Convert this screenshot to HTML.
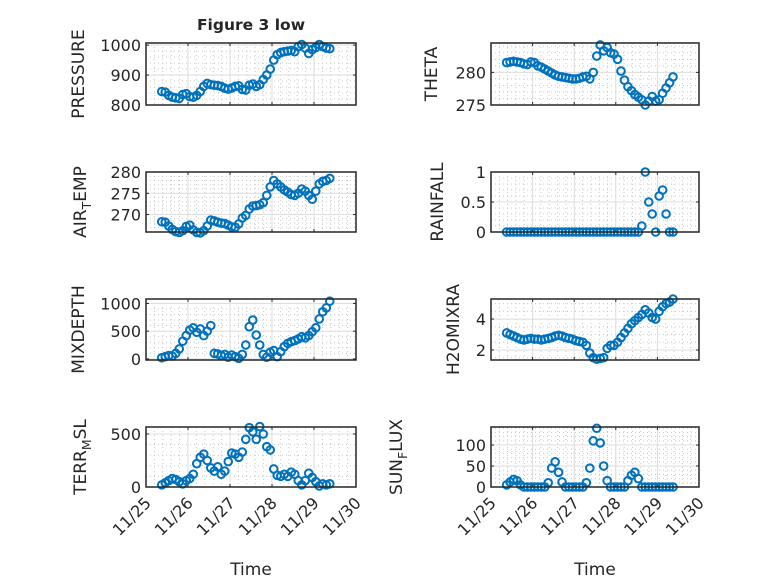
<!DOCTYPE html>
<html><head><meta charset="utf-8"><style>
html,body{margin:0;padding:0;background:#fff;}
svg text{font-family:"DejaVu Sans","Liberation Sans",sans-serif;fill:#262626;}
</style></head><body>
<svg id="fig" width="778" height="583" viewBox="0 0 778 583" xmlns="http://www.w3.org/2000/svg">
<rect width="778" height="583" fill="#fff"/>
<text x="251" y="30" text-anchor="middle" font-size="15.5" font-weight="bold">Figure 3 low</text>
<text x="251" y="575" text-anchor="middle" font-size="17">Time</text>
<text x="595" y="575" text-anchor="middle" font-size="17">Time</text>
</svg>
<script>
// time in days after 11/25 00:00
const timeDays = [0.375,0.458,0.542,0.625,0.708,0.792,0.875,0.958,1.042,1.125,1.208,1.292,1.375,1.458,1.542,1.625,1.708,1.792,1.875,1.958,2.042,2.125,2.208,2.292,2.375,2.458,2.542,2.625,2.708,2.792,2.875,2.958,3.042,3.125,3.208,3.292,3.375,3.458,3.542,3.625,3.708,3.792,3.875,3.958,4.042,4.125,4.208,4.292,4.375];
const xTickLabels = ["11/25","11/26","11/27","11/28","11/29","11/30"];
const pressure = [845,843,832,826,824,822,835,838,828,826,832,845,862,872,868,866,865,862,856,853,857,862,864,852,850,866,870,862,868,885,900,920,950,968,975,978,980,982,978,995,1002,990,972,985,992,1002,995,990,988];
const theta = [281.5,281.6,281.7,281.6,281.5,281.3,281.2,281.6,281.5,281.0,280.8,280.5,280.2,279.9,279.6,279.4,279.3,279.2,279.1,279.0,279.0,279.1,279.3,279.4,279.0,280.0,282.5,284.2,283.3,283.8,283.0,282.8,282.0,280.2,278.8,277.8,277.2,276.6,276.2,275.8,275.0,275.6,276.3,275.6,275.8,276.8,277.6,278.4,279.3];
const airTemp = [268.3,268.2,267.3,266.5,266.0,265.8,266.2,267.2,267.5,266.4,265.8,265.7,266.2,267.3,268.7,268.5,268.2,268.0,267.9,267.5,267.1,267.0,267.8,269.2,269.8,271.3,272.0,272.1,272.3,272.8,274.5,276.5,278.0,277.2,276.5,275.8,275.3,274.7,274.5,275.0,276.0,275.5,274.5,273.6,275.5,277.2,277.8,278.0,278.5];
const rainfall = [0,0,0,0,0,0,0,0,0,0,0,0,0,0,0,0,0,0,0,0,0,0,0,0,0,0,0,0,0,0,0,0,0,0,0,0,0,0,0,0.1,1.0,0.5,0.3,0,0.6,0.7,0.3,0,0];
const mixDepth = [20,40,60,50,100,180,320,420,520,560,480,540,420,500,600,100,90,60,80,30,70,40,10,80,250,580,700,430,250,80,30,120,150,40,130,220,280,310,330,360,400,380,420,490,560,720,850,920,1040];
const h2oMixRatio = [3.1,3.0,2.9,2.8,2.7,2.65,2.7,2.75,2.7,2.7,2.65,2.7,2.75,2.8,2.9,2.95,2.9,2.8,2.75,2.7,2.6,2.55,2.5,2.3,1.8,1.5,1.4,1.45,1.5,2.1,2.3,2.3,2.5,2.8,3.1,3.4,3.7,3.9,4.1,4.3,4.6,4.4,4.1,4.0,4.5,4.8,5.0,5.1,5.3];
const terrMsl = [20,40,60,80,70,50,30,60,80,120,220,280,310,250,180,150,190,120,150,240,320,310,280,330,450,560,520,450,570,500,380,350,170,110,100,120,100,140,120,60,20,60,130,90,50,10,30,20,30];
const sunFlux = [5,12,18,15,5,0,0,0,0,0,0,0,10,45,60,35,12,0,0,0,0,0,0,10,45,110,140,105,50,15,0,0,0,0,0,15,28,35,20,0,0,0,0,0,0,0,0,0,0];

const NS = "http://www.w3.org/2000/svg";
const svg = document.getElementById("fig");
function mk(tag, attrs, parent){
  const e = document.createElementNS(NS, tag);
  for (const k in attrs) e.setAttribute(k, attrs[k]);
  (parent||svg).appendChild(e);
  return e;
}
const colL = {x0:146, x1:356};
const colR = {x0:491, x1:699};
const rows = [{y0:43,y1:105},{y0:172,y1:232},{y0:299,y1:360},{y0:427,y1:487}];

const panels = [
  {name:"pressure", col:colL, row:0, data:pressure, ymin:800, ymax:1007, ticks:[800,900,1000], minor:20, label:["PRESSURE"], lx:84},
  {name:"theta", col:colR, row:0, data:theta, ymin:275, ymax:284.5, ticks:[275,280], minor:1, label:["THETA"], lx:437},
  {name:"air-temp", col:colL, row:1, data:airTemp, ymin:265.9, ymax:280, ticks:[270,275,280], minor:1, label:["AIR","T","EMP"], lx:86},
  {name:"rainfall", col:colR, row:1, data:rainfall, ymin:0, ymax:1, ticks:[0,0.5,1], minor:0.1, label:["RAINFALL"], lx:443},
  {name:"mixdepth", col:colL, row:2, data:mixDepth, ymin:-20, ymax:1080, ticks:[0,500,1000], minor:100, label:["MIXDEPTH"], lx:84},
  {name:"h2o-mix-ratio", col:colR, row:2, data:h2oMixRatio, ymin:1.35, ymax:5.3, ticks:[2,4], minor:0.5, label:["H2OMIXRA"], lx:459},
  {name:"terr-msl", col:colL, row:3, data:terrMsl, ymin:0, ymax:566, ticks:[0,500], minor:100, label:["TERR","M","SL"], lx:86},
  {name:"sun-flux", col:colR, row:3, data:sunFlux, ymin:0, ymax:143, ticks:[0,50,100], minor:10, label:["SUN","F","LUX"], lx:402}
];

panels.forEach(p => {
  const r = rows[p.row], c = p.col;
  const xs = t => c.x0 + (t/5)*(c.x1-c.x0);
  const ys = v => r.y1 - (v-p.ymin)/(p.ymax-p.ymin)*(r.y1-r.y0);
  const g = mk("g", {});
  
  
  for (let d=0; d<5; d++) for (let k=1; k<5; k++){
    const x = xs(d + k/5);
    mk("line",{x1:x,x2:x,y1:r.y0,y2:r.y1,stroke:"#c8c8c8","stroke-width":1,"stroke-dasharray":"1,3"},g);
  }
  const start = Math.ceil(p.ymin/p.minor)*p.minor;
  for (let v=start; v<=p.ymax+1e-9; v+=p.minor){
    if (p.ticks.some(t=>Math.abs(t-v)<1e-6)) continue;
    const y = ys(v);
    mk("line",{x1:c.x0,x2:c.x1,y1:y,y2:y,stroke:"#c8c8c8","stroke-width":1,"stroke-dasharray":"1,3"},g);
  }
  for (let d=1; d<5; d++){
    const x = xs(d);
    mk("line",{x1:x,x2:x,y1:r.y0,y2:r.y1,stroke:"#dcdcdc","stroke-width":1},g);
  }
  p.ticks.forEach(v => {
    const y = ys(v);
    mk("line",{x1:c.x0,x2:c.x1,y1:y,y2:y,stroke:"#dcdcdc","stroke-width":1},g);
    mk("line",{x1:c.x0,x2:c.x0+3,y1:y,y2:y,stroke:"#262626"},g);
    mk("line",{x1:c.x1-3,x2:c.x1,y1:y,y2:y,stroke:"#262626"},g);
    const t = mk("text",{x:c.x0-5,y:y+6,"text-anchor":"end","font-size":"16"},g);
    
    
    t.textContent = String(v);
  });
  for (let d=0; d<=5; d++){
    const x = xs(d);
    mk("line",{x1:x,x2:x,y1:r.y1,y2:r.y1-3,stroke:"#262626"},g);
    mk("line",{x1:x,x2:x,y1:r.y0,y2:r.y0+3,stroke:"#262626"},g);
  }
  p.data.forEach((v,i) => {
    const m = mk("circle",{cx:xs(timeDays[i]),cy:ys(v),r:3.8,fill:"none",stroke:"#0072BD","stroke-width":2},g);
    
    
  });
  mk("rect",{x:c.x0,y:r.y0,width:c.x1-c.x0,height:r.y1-r.y0,fill:"none",stroke:"#262626","stroke-width":1.5},g);
  const cy = (r.y0+r.y1)/2;
  const lab = mk("text",{x:0,y:0,"text-anchor":"middle","font-size":"17",transform:`translate(${p.lx},${cy}) rotate(-90)`},g);
  
  
  if (p.label.length === 1) lab.textContent = p.label[0];
  else {
    const a = mk("tspan",{},lab); a.textContent = p.label[0];
    const b = mk("tspan",{dy:5,"font-size":"12.5"},lab); b.textContent = p.label[1];
    const cc = mk("tspan",{dy:-5},lab); cc.textContent = p.label[2];
  }
  if (p.row === 3){
    xTickLabels.forEach((s,d) => {
      const x = xs(d), y = r.y1 + 12;
      const t = mk("text",{x:0,y:0,"text-anchor":"end","font-size":"16",transform:`translate(${x+6},${y+5}) rotate(-45)`},g);
      
      
      t.textContent = s;
    });
  }
});
</script>
</body></html>
